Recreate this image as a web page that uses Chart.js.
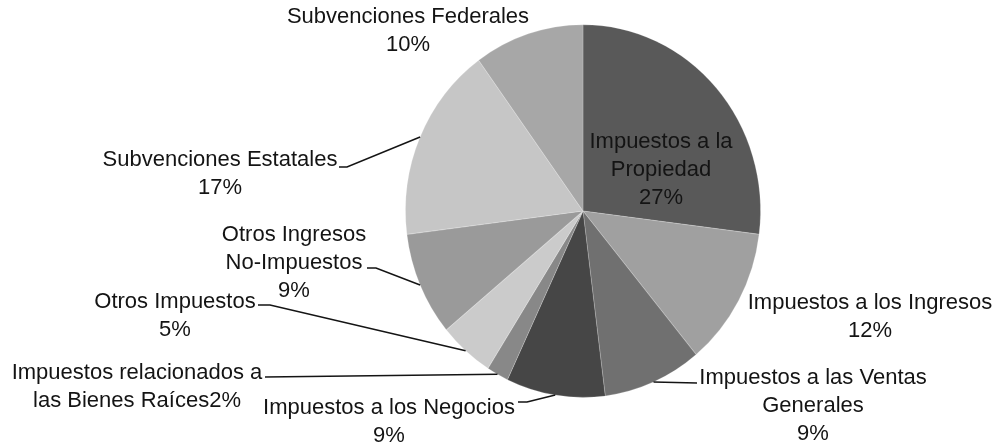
<!DOCTYPE html>
<html>
<head>
<meta charset="utf-8">
<script src="https://cdn.jsdelivr.net/npm/chart.js@4/dist/chart.umd.min.js"></script>
<style>
  html, body { margin: 0; padding: 0; background: #fff; }
  #wrap { width: 992px; height: 445px; position: relative; }
</style>
</head>
<body>
<div id="wrap"><canvas id="chart"></canvas></div>
<script>
// data
const categories = [
    'Impuestos a la Propiedad',
    'Impuestos a los Ingresos',
    'Impuestos a las Ventas Generales',
    'Impuestos a los Negocios',
    'Impuestos relacionados a las Bienes Raíces',
    'Otros Impuestos',
    'Otros Ingresos No-Impuestos',
    'Subvenciones Estatales',
    'Subvenciones Federales'
];
const shares = [27, 12, 9, 9, 2, 5, 9, 17, 10];
const sliceColors = ['#595959', '#a0a0a0', '#707070', '#464646', '#888888',
                     '#cbcbcb', '#9a9a9a', '#c6c6c6', '#a7a7a7'];

// how each label is broken into lines (percent goes on its own line unless joined)
const labelLines = [
    ['Impuestos a la', 'Propiedad'],
    ['Impuestos a los Ingresos'],
    ['Impuestos a las Ventas', 'Generales'],
    ['Impuestos a los Negocios'],
    ['Impuestos relacionados a', 'las Bienes Raíces'],
    ['Otros Impuestos'],
    ['Otros Ingresos', 'No-Impuestos'],
    ['Subvenciones Estatales'],
    ['Subvenciones Federales']
];
const joinPct = [false, false, false, false, true, false, false, false, false];

// label placement: center of first text line, leader path from slice edge
const labelLayout = [
    {x: 661, y: 142, path: null},
    {x: 870, y: 303, path: null},
    {x: 813, y: 378, path: [[697, 383]]},
    {x: 389, y: 408, path: [[527, 402], [518, 402]]},
    {x: 137, y: 373, path: [[265, 377]]},
    {x: 175, y: 302, path: [[270, 305], [258, 305]]},
    {x: 294, y: 235, path: [[376, 268], [367, 268]]},
    {x: 220, y: 160, path: [[347, 167], [339, 167]]},
    {x: 408, y: 17, path: null}
];

const yStretch = 1.05;
const lineH = 28;

const stretchPlugin = {
    id: 'stretch',
    beforeDatasetsDraw(chart) {
        const arc = chart.getDatasetMeta(0).data[0];
        const ctx = chart.ctx;
        ctx.save();
        ctx.translate(0, arc.y);
        ctx.scale(1, yStretch);
        ctx.translate(0, -arc.y);
    },
    afterDatasetsDraw(chart) {
        chart.ctx.restore();
    }
};

const labelPlugin = {
    id: 'pieLabels',
    afterDraw(chart) {
        const ctx = chart.ctx;
        const arcs = chart.getDatasetMeta(0).data;
        ctx.save();
        ctx.font = '22px "Liberation Sans", Arial, sans-serif';
        ctx.fillStyle = '#141414';
        ctx.strokeStyle = '#141414';
        ctx.lineWidth = 1.5;
        ctx.textAlign = 'center';
        ctx.textBaseline = 'middle';
        arcs.forEach((arc, i) => {
            const lay = labelLayout[i];
            if (lay.path) {
                const a = (arc.startAngle + arc.endAngle) / 2;
                const ax = arc.x + arc.outerRadius * Math.cos(a);
                const ay = arc.y + arc.outerRadius * yStretch * Math.sin(a);
                ctx.beginPath();
                ctx.moveTo(ax, ay);
                lay.path.forEach(p => ctx.lineTo(p[0], p[1]));
                ctx.stroke();
            }
            let lines = labelLines[i].slice();
            const pct = shares[i] + '%';
            if (joinPct[i]) {
                lines[lines.length - 1] += pct;
            } else {
                lines.push(pct);
            }
            lines.forEach((t, k) => ctx.fillText(t, lay.x, lay.y + k * lineH));
        });
        ctx.restore();
    }
};

new Chart(document.getElementById('chart'), {
    type: 'pie',
    data: {
        labels: categories,
        datasets: [{
            data: shares,
            backgroundColor: sliceColors,
            borderColor: 'rgba(255,255,255,0.2)',
            borderWidth: 1
        }]
    },
    options: {
        responsive: true,
        maintainAspectRatio: false,
        animation: false,
        layout: {
            padding: {left: 405, right: 231, top: 33, bottom: 56}
        },
        plugins: {
            legend: {display: false},
            tooltip: {enabled: false}
        }
    },
    plugins: [stretchPlugin, labelPlugin]
});
</script>
</body>
</html>
